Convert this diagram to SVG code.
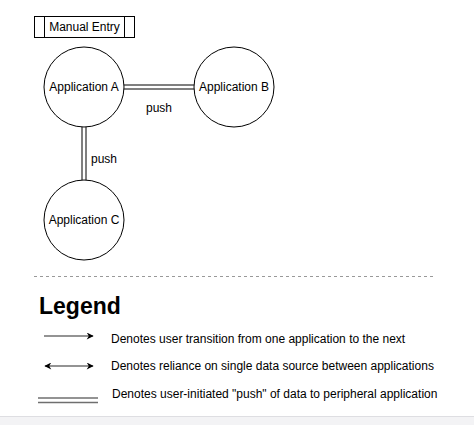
<svg xmlns="http://www.w3.org/2000/svg" width="474" height="425" viewBox="0 0 474 425">
<style>
.node{fill:#fff;stroke:#000;stroke-width:1}
.t{font-family:"Liberation Sans",Arial,sans-serif;font-size:12px;fill:#000}
.c{text-anchor:middle;dominant-baseline:central}
.dbl{stroke:#000;stroke-width:1;fill:none}
.lg{stroke:#6f6f6f;stroke-width:1.5;fill:none}
</style>
<defs>
<marker id="ah" viewBox="0 0 10 10" refX="9" refY="5" markerWidth="8" markerHeight="7" orient="auto-start-reverse" markerUnits="userSpaceOnUse">
<path d="M0,0 L10,5 L0,10 L3,5 Z" fill="#000"/>
</marker>
</defs>
<rect width="474" height="425" fill="#fff"/>
<g id="connectors">
<line class="dbl" x1="124" y1="85" x2="194" y2="85"/>
<line class="dbl" x1="124" y1="89" x2="194" y2="89"/>
<line class="dbl" x1="82" y1="127" x2="82" y2="180"/>
<line class="dbl" x1="86" y1="127" x2="86" y2="180"/>
<text class="t c" x="159" y="108">push</text>
<text class="t c" x="104" y="159">push</text>
</g>
<g id="manual-entry">
<rect class="node" x="34.5" y="16.5" width="100" height="21"/>
<line class="dbl" x1="44.5" y1="16.5" x2="44.5" y2="37.5"/>
<line class="dbl" x1="124.5" y1="16.5" x2="124.5" y2="37.5"/>
<text class="t c" x="84.5" y="27">Manual Entry</text>
</g>
<g id="app-a">
<circle class="node" cx="84" cy="87" r="40"/>
<text class="t c" x="84" y="87">Application A</text>
</g>
<g id="app-b">
<circle class="node" cx="234" cy="87" r="40"/>
<text class="t c" x="234" y="87">Application B</text>
</g>
<g id="app-c">
<circle class="node" cx="84" cy="220" r="40"/>
<text class="t c" x="84" y="220">Application C</text>
</g>
<g id="legend">
<line x1="34" y1="276.5" x2="434" y2="276.5" stroke="#999" stroke-width="1" stroke-dasharray="3,3"/>
<text x="39" y="314" font-family="Liberation Sans,Arial,sans-serif" font-size="23" font-weight="bold" fill="#000">Legend</text>
<line class="lg" x1="44" y1="336" x2="93" y2="336" marker-end="url(#ah)"/>
<text class="t" x="111" y="343">Denotes user transition from one application to the next</text>
<line class="lg" x1="45" y1="366" x2="93" y2="366" marker-start="url(#ah)" marker-end="url(#ah)"/>
<text class="t" x="111" y="370">Denotes reliance on single data source between applications</text>
<line class="lg" x1="38" y1="398" x2="98" y2="398"/>
<line class="lg" x1="38" y1="402.5" x2="98" y2="402.5"/>
<text class="t" x="112" y="398">Denotes user-initiated "push" of data to peripheral application</text>
</g>
<rect x="0" y="416" width="474" height="9" fill="#f3f3f5"/>
<line x1="0" y1="416.5" x2="474" y2="416.5" stroke="#dedee2" stroke-width="1"/>
</svg>
